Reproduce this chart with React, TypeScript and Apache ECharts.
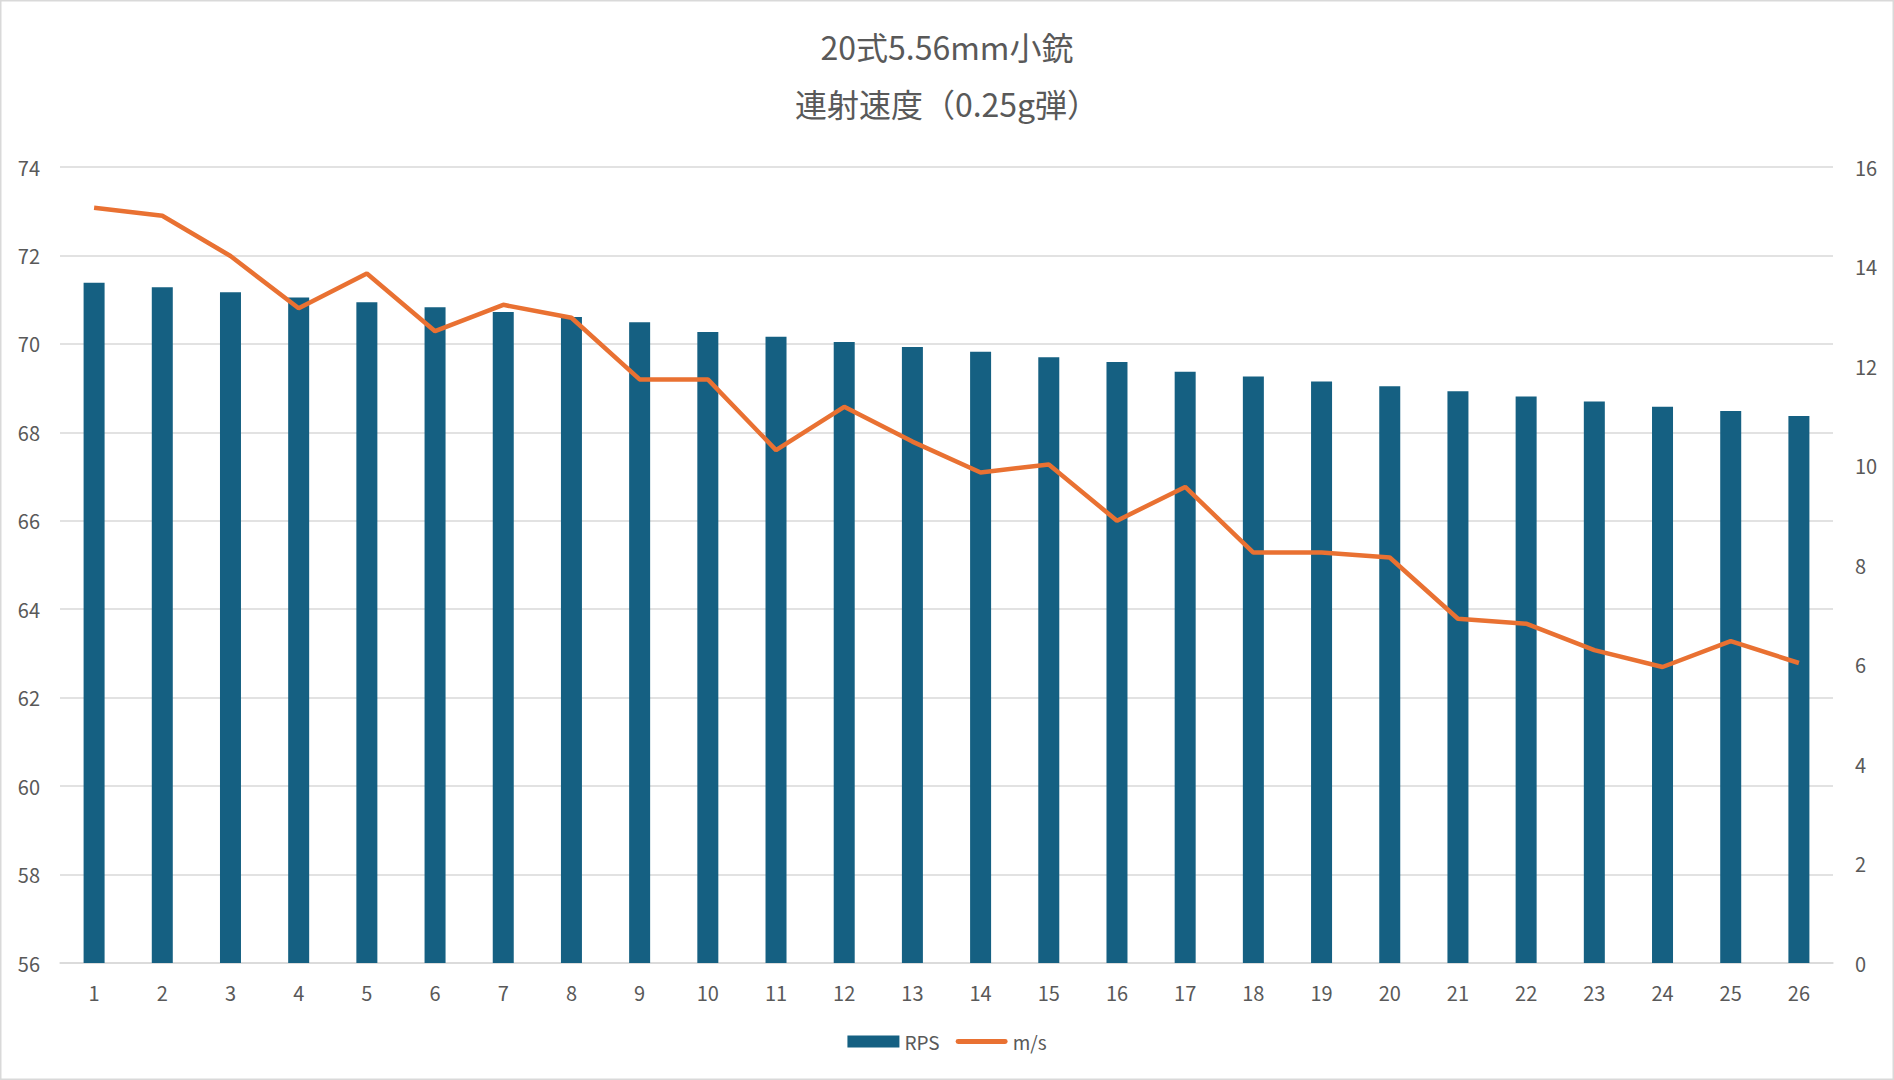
import { useEffect, useRef } from "react";
import * as echarts from "echarts";

const categories = ["1", "2", "3", "4", "5", "6", "7", "8", "9", "10", "11", "12", "13",
    "14", "15", "16", "17", "18", "19", "20", "21", "22", "23", "24", "25", "26"];

// RPS (left axis, bars)
const rps = [71.38, 71.28, 71.17, 71.05, 70.94, 70.83, 70.72, 70.61, 70.49, 70.27, 70.16, 70.04, 69.93,
    69.82, 69.70, 69.59, 69.37, 69.26, 69.15, 69.04, 68.93, 68.81, 68.70, 68.58, 68.48, 68.37];

// m/s (right axis, line)
const speed = [15.18, 15.02, 14.21, 13.16, 13.86, 12.70, 13.23, 12.97, 11.73, 11.73, 10.31, 11.18, 10.48,
    9.86, 10.02, 8.89, 9.57, 8.25, 8.25, 8.15, 6.92, 6.82, 6.29, 5.95, 6.47, 6.03];

const titleLines = ["20式5.56mm小銃", "連射速度（0.25g弾）"];
const seriesNames = ["RPS", "m/s"];

const FONT = '"Noto Sans CJK JP", "Noto Sans", sans-serif';
const TEXT = "#595959";
const GRID = "#d9d9d9";
const BAR = "#156082";
const LINE = "#E97132";

// rounded bar used as the line's legend key (no marker dot)
const LINE_KEY = "path://M2.5,0H51.5A2.5,2.5,0,0,1,51.5,5H2.5A2.5,2.5,0,0,1,2.5,0Z";

function App() {
    const ref = useRef<HTMLDivElement>(null);

    useEffect(() => {
        document.body.style.margin = "0";
        if (!ref.current) return;
        const chart = echarts.init(ref.current, undefined, { renderer: "svg" });

        chart.setOption({
            animation: false,
            backgroundColor: "#ffffff",
            textStyle: { fontFamily: FONT },
            graphic: [
                {
                    type: "rect",
                    silent: true,
                    shape: { x: 0.75, y: 0.75, width: 1892.5, height: 1078.5 },
                    style: { fill: "none", stroke: GRID, lineWidth: 1.5 },
                },
            ],
            title: [
                {
                    text: titleLines[0],
                    left: "center",
                    top: 30,
                    padding: 0,
                    textStyle: { fontSize: 32, fontWeight: "normal", color: TEXT, fontFamily: FONT },
                },
                {
                    text: titleLines[1],
                    left: "center",
                    top: 87,
                    padding: 0,
                    textStyle: { fontSize: 32, fontWeight: "normal", color: TEXT, fontFamily: FONT },
                },
            ],
            legend: {
                top: 1032,
                left: "center",
                padding: 0,
                itemGap: 16,
                itemWidth: 52,
                itemHeight: 12,
                textStyle: { fontSize: 19, color: TEXT, fontFamily: FONT },
                data: [
                    { name: seriesNames[0], icon: "rect" },
                    { name: seriesNames[1], icon: LINE_KEY },
                ],
            },
            grid: { left: 60, right: 61, top: 167, bottom: 117 },
            xAxis: {
                type: "category",
                data: categories,
                axisLine: { onZero: false, lineStyle: { color: GRID, width: 1.5 } },
                axisTick: { show: false },
                axisLabel: { color: TEXT, fontSize: 20, margin: 19, fontFamily: FONT },
            },
            yAxis: [
                {
                    type: "value",
                    min: 56,
                    max: 74,
                    interval: 2,
                    axisLine: { show: false },
                    axisTick: { show: false },
                    axisLabel: { color: TEXT, fontSize: 20, margin: 20, fontFamily: FONT },
                    splitLine: { lineStyle: { color: GRID, width: 1.5 } },
                },
                {
                    type: "value",
                    min: 0,
                    max: 16,
                    interval: 2,
                    axisLine: { show: false },
                    axisTick: { show: false },
                    axisLabel: { color: TEXT, fontSize: 20, margin: 22, fontFamily: FONT },
                    splitLine: { show: false },
                },
            ],
            series: [
                {
                    name: seriesNames[0],
                    type: "bar",
                    data: rps,
                    barWidth: 21,
                    itemStyle: { color: BAR },
                },
                {
                    name: seriesNames[1],
                    type: "line",
                    yAxisIndex: 1,
                    data: speed,
                    symbol: "none",
                    z: 5,
                    itemStyle: { color: LINE },
                    lineStyle: { color: LINE, width: 4.5 },
                },
            ],
        });

        return () => {
            chart.dispose();
        };
    }, []);

    return <div ref={ref} style={{ width: "1894px", height: "1080px" }} />;
}

export default App;
